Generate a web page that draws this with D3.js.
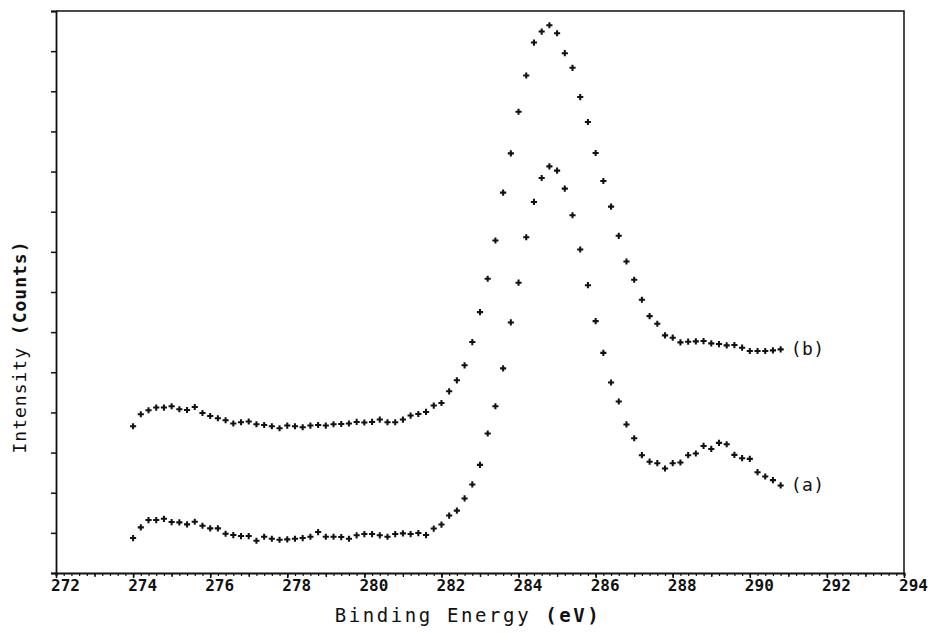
<!DOCTYPE html>
<html>
<head>
<meta charset="utf-8">
<script src="https://cdn.jsdelivr.net/npm/d3@7"></script>
<style>
  html, body { margin: 0; padding: 0; background: #fff; }
  svg { display: block; }
</style>
</head>
<body>
<svg id="chart" width="930" height="634"></svg>
<script>
// Binding energy (eV) of each measured point
const energy = [
  274.0, 274.2, 274.4, 274.6, 274.8, 275.0, 275.2, 275.4, 275.6, 275.8,
  276.0, 276.2, 276.4, 276.6, 276.8, 277.0, 277.2, 277.4, 277.6, 277.8,
  278.0, 278.2, 278.4, 278.6, 278.8, 279.0, 279.2, 279.4, 279.6, 279.8,
  280.0, 280.2, 280.4, 280.6, 280.8, 281.0, 281.2, 281.4, 281.6, 281.8,
  282.0, 282.2, 282.4, 282.6, 282.8, 283.0, 283.2, 283.4, 283.6, 283.8,
  284.0, 284.2, 284.4, 284.6, 284.8, 285.0, 285.2, 285.4, 285.6, 285.8,
  286.0, 286.2, 286.4, 286.6, 286.8, 287.0, 287.2, 287.4, 287.6, 287.8,
  288.0, 288.2, 288.4, 288.6, 288.8, 289.0, 289.2, 289.4, 289.6, 289.8,
  290.0, 290.2, 290.4, 290.6, 290.8
];

// Spectrum (a) intensity (counts)
const seriesA = [
  870, 1137, 1318, 1318, 1350, 1268, 1261, 1211, 1276, 1176,
  1112, 1112, 977, 945, 920, 920, 803, 903, 853, 828,
  838, 853, 870, 903, 1020, 903, 903, 895, 853, 938,
  970, 970, 938, 903, 970, 987, 970, 995, 945, 1107,
  1206, 1430, 1554, 1858, 2206, 2693, 3474, 4153, 5098, 6242,
  7232, 8364, 9244, 9841, 10130, 10023, 9575, 8911, 8058, 7170,
  6275, 5484, 4745, 4273, 3701, 3357, 2935, 2773, 2736, 2604,
  2736, 2753, 2935, 2977, 3166, 3091, 3241, 3208, 2942, 2860,
  2843, 2512, 2405, 2313, 2181
];

// Spectrum (b) intensity (counts)
const seriesB = [
  3656, 3954, 4054, 4121, 4121, 4153, 4079, 4061, 4136, 3987,
  3912, 3855, 3805, 3723, 3755, 3773, 3706, 3688, 3656, 3606,
  3673, 3656, 3631, 3673, 3688, 3673, 3706, 3713, 3723, 3763,
  3748, 3763, 3822, 3755, 3755, 3822, 3922, 3960, 4012, 4171,
  4235, 4526, 4800, 5173, 5752, 6499, 7329, 8282, 9475, 10453,
  11490, 12393, 13214, 13487, 13646, 13447, 12950, 12584, 11856, 11234,
  10463, 9766, 9127, 8399, 7759, 7304, 6807, 6399, 6210, 5919,
  5862, 5745, 5762, 5770, 5777, 5720, 5703, 5670, 5678, 5613,
  5529, 5529, 5529, 5546, 5571
];

const seriesLabels = ["(a)", "(b)"];
const xTickLabels = [272, 274, 276, 278, 280, 282, 284, 286, 288, 290, 292, 294];
const xDomain = [272, 294];
const yDomain = [0, 14000];
const xTitle = ["Binding Energy ", "(eV)"];
const yTitle = ["Intensity ", "(Counts)"];

(function () {
const svg = d3.select("#chart");
const pL = 56, pR = 904, pT = 11, pB = 573;

const x = d3.scaleLinear().domain(xDomain).range([pL, pR]);
const y = d3.scaleLinear().domain(yDomain).range([pB, pT]);

const ink = "#111";

// frame (top and right)
svg.append("path")
  .attr("d", `M${pL},${pT}H${pR}V${pB}`)
  .attr("fill", "none").attr("stroke", ink).attr("stroke-width", 1.5);

// y axis
const yAxis = d3.axisLeft(y).tickValues(d3.range(0, 14001, 1000)).tickSize(5).tickFormat("");
const gy = svg.append("g").attr("transform", `translate(${pL},0)`).call(yAxis);
gy.select(".domain").attr("stroke", ink).attr("stroke-width", 1.8);
gy.selectAll(".tick line").attr("stroke", ink).attr("stroke-width", 1.5);

// x axis minor ticks every 0.2 eV
const minorVals = d3.range(0, 111).map(i => 272 + i * 0.2);
const gxm = svg.append("g").attr("transform", `translate(0,${pB})`)
  .call(d3.axisBottom(x).tickValues(minorVals).tickSize(3).tickFormat(""));
gxm.select(".domain").attr("stroke", ink).attr("stroke-width", 1.8);
gxm.selectAll(".tick line").attr("stroke", ink).attr("stroke-width", 1.2);

// x axis 1 eV ticks
svg.append("g").attr("transform", `translate(0,${pB})`)
  .call(d3.axisBottom(x).tickValues(d3.range(272, 295, 1)).tickSize(4).tickFormat(""))
  .call(g => g.select(".domain").remove())
  .selectAll(".tick line").attr("stroke", ink).attr("stroke-width", 1.3);

// x axis labelled ticks
const gx = svg.append("g").attr("transform", `translate(0,${pB})`)
  .call(d3.axisBottom(x).tickValues(xTickLabels).tickSize(5).tickPadding(2).tickFormat(d3.format("d")));
gx.select(".domain").remove();
gx.selectAll(".tick line").attr("stroke", ink).attr("stroke-width", 1.5);
gx.selectAll(".tick text")
  .attr("dx", 9)
  .attr("fill", ink)
  .style("font-family", "'DejaVu Sans Mono', monospace")
  .style("font-weight", "bold")
  .style("font-size", "16px");

// axis titles
const xt = svg.append("text")
  .attr("x", 468).attr("y", 622)
  .attr("text-anchor", "middle")
  .attr("fill", ink)
  .style("font-family", "'DejaVu Sans Mono', monospace")
  .style("font-size", "19px")
  .style("letter-spacing", "2.6px");
xt.append("tspan").text(xTitle[0]);
xt.append("tspan").text(xTitle[1]).style("font-weight", "bold");

const yt = svg.append("text")
  .attr("transform", "translate(26,347) rotate(-90)")
  .attr("text-anchor", "middle")
  .attr("fill", ink)
  .style("font-family", "'DejaVu Sans Mono', monospace")
  .style("font-size", "18px")
  .style("letter-spacing", "1px");
yt.append("tspan").text(yTitle[0]);
yt.append("tspan").text(yTitle[1]).style("font-weight", "bold");

// data markers
const symbol = d3.symbol().type(d3.symbolCross).size(21);
const series = [seriesA, seriesB];
series.forEach((vals, si) => {
  svg.append("g")
    .selectAll("path")
    .data(vals.map((v, i) => [energy[i], v]))
    .join("path")
    .attr("d", symbol)
    .attr("transform", d => `translate(${x(d[0])},${y(d[1])})`)
    .attr("fill", ink);

  const last = vals.length - 1;
  svg.append("text")
    .attr("x", x(energy[last]) + 10)
    .attr("y", y(vals[last]) + 6)
    .attr("fill", ink)
    .style("font-family", "'DejaVu Sans Mono', monospace")
    .style("font-size", "18px")
    .style("letter-spacing", "0.5px")
    .text(seriesLabels[si]);
});
})();
</script>
</body>
</html>
